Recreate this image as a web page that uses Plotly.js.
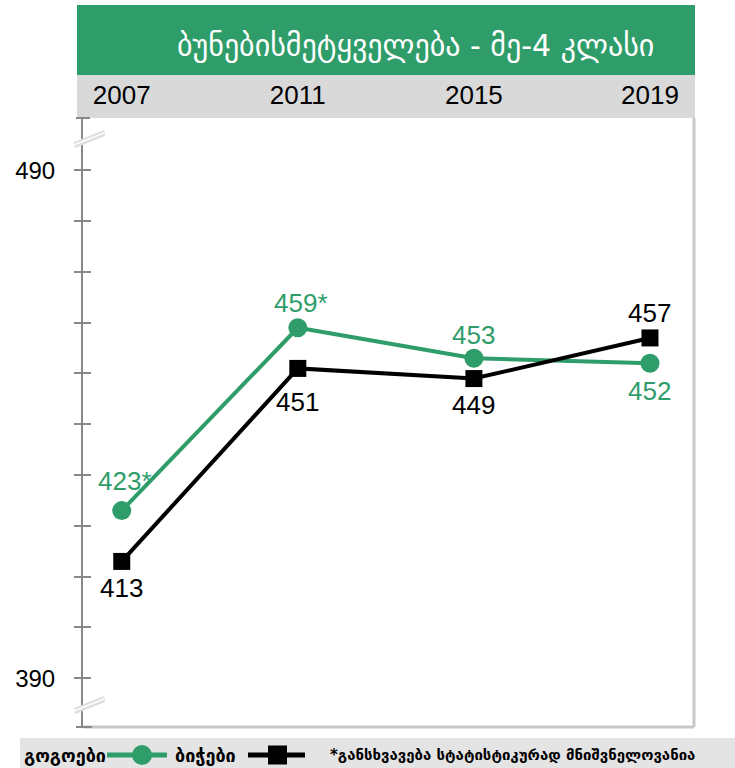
<!DOCTYPE html>
<html>
<head>
<meta charset="utf-8">
<script src="https://cdn.plot.ly/plotly-3.0.1.min.js"></script>
<style>html,body{margin:0;padding:0;background:#fff;}#chart{width:735px;height:768px;}</style>
</head>
<body>
<div id="chart"></div>
<script>
const years = ['2007', '2011', '2015', '2019'];
const girls = [423, 459, 453, 452];
const boys = [413, 451, 449, 457];
const girlsLabels = ['423*', '459*', '453', '452'];
const boysLabels = ['413', '451', '449', '457'];
const girlsShift = [30, 25, 23, -28];
const boysShift = [-27, -34, -26, 25];
const yTicks = [390, 400, 410, 420, 430, 440, 450, 460, 470, 480, 490];
const yTickText = ['390', '', '', '', '', '', '', '', '', '', '490'];
const titleText = 'ბუნებისმეტყველება - მე-4 კლასი';
const girlsName = 'გოგოები';
const boysName = 'ბიჭები';
const footnote = '*განსხვავება სტატისტიკურად მნიშვნელოვანია';

const GREEN = '#2e9d69';
const NUMFONT = 'Liberation Sans, Arial';
const W = 735, H = 768;
const L = 83, R = 694, T = 118, B = 727;
const px = x => (x - L) / (R - L);
const py = y => (B - y) / (B - T);
const YR = [380.4, 500.3];

const traces = [
  {x: years, y: girls, type: 'scatter', mode: 'lines+markers', name: girlsName,
   line: {color: GREEN, width: 4}, marker: {symbol: 'circle', size: 19, color: GREEN},
   cliponaxis: false, hoverinfo: 'skip'},
  {x: years, y: boys, type: 'scatter', mode: 'lines+markers', name: boysName,
   line: {color: '#000', width: 4}, marker: {symbol: 'square', size: 17, color: '#000'},
   cliponaxis: false, hoverinfo: 'skip'},
  {x: [], y: [], type: 'scatter', yaxis: 'y2', hoverinfo: 'skip', showlegend: false}
];

function brk(cy) {
  const cx = 89;
  return [
    {type: 'path', xref: 'paper', yref: 'paper', layer: 'above',
     path: `M ${px(cx-15)} ${py(cy+3)} L ${px(cx+15)} ${py(cy-9)} L ${px(cx+16)} ${py(cy-3)} L ${px(cx-14)} ${py(cy+9)} Z`,
     fillcolor: '#dddddd', line: {width: 0}},
    {type: 'line', xref: 'paper', yref: 'paper', layer: 'above',
     x0: px(cx-15), y0: py(cy+6), x1: px(cx+15), y1: py(cy-6), line: {color: '#fff', width: 1.5}}
  ];
}

const shapes = [
  {type: 'rect', xref: 'paper', yref: 'paper', layer: 'below', x0: px(77), x1: px(695), y0: py(75), y1: py(5),
   fillcolor: GREEN, line: {width: 0}},
  {type: 'rect', xref: 'paper', yref: 'paper', layer: 'below', x0: px(77), x1: px(695), y0: py(118), y1: py(75),
   fillcolor: '#d9d9d9', line: {width: 0}},
  {type: 'line', xref: 'paper', yref: 'paper', x0: 1, x1: 1, y0: 0, y1: 1, line: {color: '#c8c8c8', width: 3}},
  {type: 'line', xref: 'paper', yref: 'paper', x0: 0, x1: 1, y0: 0, y1: 0, line: {color: '#c8c8c8', width: 3}},
  {type: 'line', xref: 'paper', yref: 'paper', x0: px(76), x1: px(92), y0: 0, y1: 0, line: {color: '#888', width: 2}},
  {type: 'line', xref: 'paper', yref: 'paper', x0: px(76), x1: px(90), y0: 1, y1: 1, line: {color: '#888', width: 2}},
  {type: 'rect', xref: 'paper', yref: 'paper', layer: 'below', x0: px(20), x1: px(740), y0: py(770), y1: py(738),
   fillcolor: '#e4e4e4', line: {width: 0}},
  {type: 'line', xref: 'paper', yref: 'paper', x0: px(107), x1: px(167), y0: py(755), y1: py(755), line: {color: GREEN, width: 5}},
  {type: 'circle', xref: 'paper', yref: 'paper', x0: px(132), x1: px(152), y0: py(765), y1: py(745), fillcolor: GREEN, line: {width: 0}},
  {type: 'line', xref: 'paper', yref: 'paper', x0: px(248), x1: px(305), y0: py(755), y1: py(755), line: {color: '#000', width: 5}},
  {type: 'rect', xref: 'paper', yref: 'paper', x0: px(268), x1: px(287), y0: py(764.5), y1: py(745.5), fillcolor: '#000', line: {width: 0}},
  ...brk(139),
  ...brk(705)
];

const annotations = [
  {text: titleText, xref: 'paper', yref: 'paper', x: px(415), y: py(45), showarrow: false,
   font: {family: 'DejaVu Sans', size: 30, color: '#fff'}, xanchor: 'center', yanchor: 'middle'},
  {text: '<b>' + girlsName + '</b>', xref: 'paper', yref: 'paper', x: px(22), y: py(755), showarrow: false,
   font: {family: 'DejaVu Sans', size: 18, color: '#000'}, xanchor: 'left', yanchor: 'middle'},
  {text: '<b>' + boysName + '</b>', xref: 'paper', yref: 'paper', x: px(173), y: py(755), showarrow: false,
   font: {family: 'DejaVu Sans', size: 18, color: '#000'}, xanchor: 'left', yanchor: 'middle'},
  {text: '<b>' + footnote + '</b>', xref: 'paper', yref: 'paper', x: px(328), y: py(755), showarrow: false,
   font: {family: 'DejaVu Sans', size: 15, color: '#000'}, xanchor: 'left', yanchor: 'middle'}
];

years.forEach((yr, i) => {
  annotations.push({x: i, y: girls[i], xref: 'x', yref: 'y', text: girlsLabels[i], showarrow: false,
    yshift: girlsShift[i], xshift: girlsLabels[i].includes('*') ? 3 : 0,
    xanchor: 'center', yanchor: 'middle',
    font: {family: NUMFONT, size: 26, color: GREEN}});
  annotations.push({x: i, y: boys[i], xref: 'x', yref: 'y', text: boysLabels[i], showarrow: false,
    yshift: boysShift[i], xanchor: 'center', yanchor: 'middle',
    font: {family: NUMFONT, size: 26, color: '#000'}});
});

const layout = {
  width: W, height: H,
  margin: {l: L, r: W - R, t: T, b: H - B, pad: 0},
  paper_bgcolor: '#fff', plot_bgcolor: '#fff',
  showlegend: false,
  font: {family: NUMFONT, size: 20, color: '#000'},
  xaxis: {type: 'category', range: [-0.22, 3.25], side: 'top', showgrid: false, zeroline: false,
          showline: false, ticks: '', ticklabelstandoff: 8, tickfont: {size: 26, color: '#000'}},
  yaxis: {range: YR, tickmode: 'array', tickvals: yTicks, ticktext: yTickText,
          ticks: 'outside', ticklen: 7, tickwidth: 2, tickcolor: '#888', showgrid: false, zeroline: false,
          showline: true, linecolor: '#888', linewidth: 2, ticklabelstandoff: 14,
          tickfont: {size: 24, color: '#000'}},
  yaxis2: {overlaying: 'y', range: YR, tickmode: 'array', tickvals: yTicks,
           ticks: 'inside', ticklen: 8, tickwidth: 2, tickcolor: '#888', showticklabels: false,
           showgrid: false, zeroline: false, showline: false, side: 'left'},
  shapes: shapes,
  annotations: annotations
};

Plotly.newPlot('chart', traces, layout, {staticPlot: true, displayModeBar: false});
</script>
</body>
</html>
